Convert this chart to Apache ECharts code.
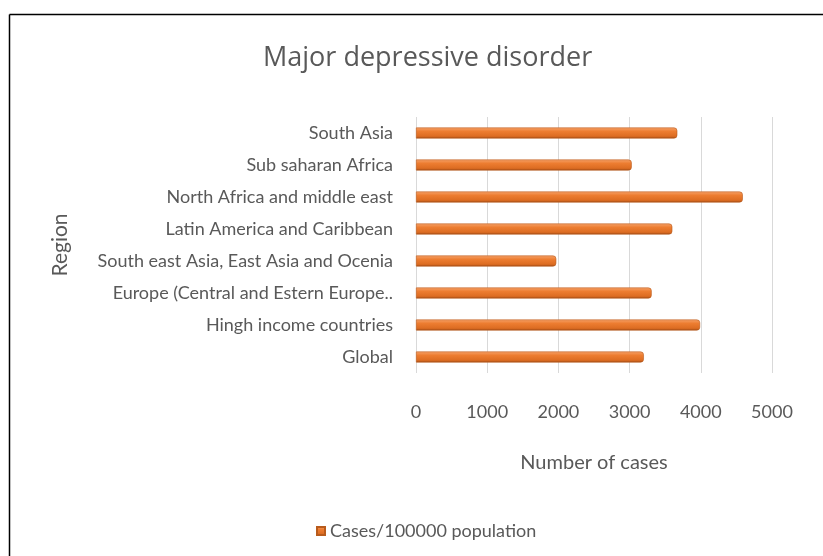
<!DOCTYPE html>
<html>
<head>
<meta charset="utf-8">
<script src="https://cdn.jsdelivr.net/npm/echarts@6/dist/echarts.min.js"></script>
<style>html,body{margin:0;padding:0;background:#fff}#c{width:823px;height:556px}</style>
</head>
<body>
<div id="c"></div>
<script>
const categories = ["Global","Hingh income countries","Europe (Central and Estern Europe..","South east Asia, East Asia and Ocenia","Latin America and Caribbean","North Africa and middle east","Sub saharan Africa","South Asia"];
const values = [3200, 3990, 3310, 1970, 3600, 4590, 3030, 3670];
const xTicks = [0, 1000, 2000, 3000, 4000, 5000];
const seriesName = "Cases/100000 population";
const titleText = "Major depressive disorder";
const xName = "Number of cases";
const yName = "Region";

const chart = echarts.init(document.getElementById('c'));
const txt = '#595959';
const font = 'Lato';
chart.setOption({
  animation: false,
  backgroundColor: '#fff',
  title: {text: titleText, left: 258, top: 40, textStyle: {fontFamily: 'Open Sans', fontWeight: 'normal', fontSize: 27, color: txt}},
  legend: {data: [seriesName], left: 311, top: 517, itemWidth: 8, itemHeight: 8, itemGap: 4, icon: 'rect',
    textStyle: {fontFamily: font, fontSize: 18, color: txt}},
  grid: {left: 416, right: 51, top: 117, bottom: 183, containLabel: false},
  xAxis: {type: 'value', min: xTicks[0], max: xTicks[xTicks.length-1], interval: 1000,
    name: xName, nameLocation: 'middle', nameGap: 80,
    nameTextStyle: {fontFamily: font, fontSize: 20, color: txt},
    axisLine: {show: false}, axisTick: {show: false},
    axisLabel: {margin: 30, fontFamily: font, fontSize: 18, color: txt, formatter: v => String(v)},
    splitLine: {show: true, lineStyle: {color: '#d9d9d9', width: 1}}},
  yAxis: {type: 'category', data: categories,
    name: yName, nameLocation: 'middle', nameGap: 345, nameRotate: 90,
    nameTextStyle: {fontFamily: font, fontSize: 21, color: txt},
    axisLine: {show: false}, axisTick: {show: false},
    axisLabel: {margin: 23, fontFamily: font, fontSize: 18, color: txt}},
  series: [{
    name: seriesName, type: 'bar', data: values, barWidth: 11,
    itemStyle: {
      color: new echarts.graphic.LinearGradient(0, 0, 0, 1, [
        {offset: 0, color: '#f6a26a'},
        {offset: 0.35, color: '#ed7d31'},
        {offset: 0.8, color: '#dc6c22'},
        {offset: 1, color: '#9e4a14'}
      ]),
      borderColor: '#b85b1c', borderWidth: 0.6, borderRadius: [0, 3, 3, 0]
    }
  }],
  graphic: [
    {type: 'line', shape: {x1: 9.5, y1: 14.5, x2: 823, y2: 14.5}, style: {stroke: '#000', lineWidth: 1.5}},
    {type: 'line', shape: {x1: 9.5, y1: 14.5, x2: 9.5, y2: 556}, style: {stroke: '#000', lineWidth: 1.5}}
  ]
});
</script>
</body>
</html>
